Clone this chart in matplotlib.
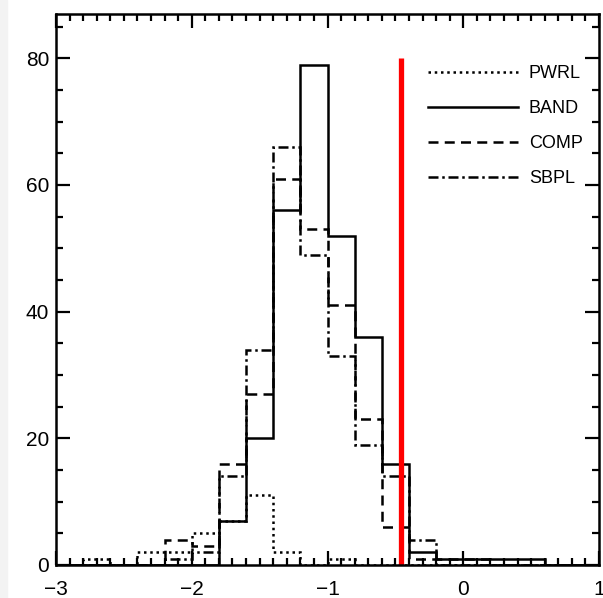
import numpy as np
import matplotlib
matplotlib.use("Agg")
import matplotlib.pyplot as plt
from matplotlib.patches import Rectangle
from matplotlib.ticker import MultipleLocator

plt.rcParams['font.family'] = ['Liberation Sans', 'DejaVu Sans']

# histogram bin edges (width 0.2 from -3 to 1)
bin_start = -3.0
bin_width = 0.2
n_bins = 20

# counts per bin
pwrl = [0, 1, 0, 2, 2, 5, 7, 11, 2, 0, 1, 0, 0, 0, 0, 0, 0, 0, 0, 0]
band = [0, 0, 0, 0, 0, 0, 7, 20, 56, 79, 52, 36, 16, 2, 1, 1, 1, 1, 0, 0]
comp = [0, 0, 0, 0, 4, 3, 16, 27, 61, 53, 41, 23, 6, 1, 1, 1, 0, 0, 0, 0]
sbpl = [0, 0, 0, 0, 1, 2, 14, 34, 66, 49, 33, 19, 14, 4, 0, 0, 0, 0, 0, 0]

labels = ["PWRL", "BAND", "COMP", "SBPL"]
cut_x = -0.46
cut_top = 80

edges = bin_start + bin_width * np.arange(n_bins + 1)

fig = plt.figure(figsize=(6.03, 5.98), dpi=100)
# light grey strip on the left edge of the picture
fig.patches.append(Rectangle((0, 0), 7 / 603, 1, transform=fig.transFigure,
                             color="#f3f3f3", zorder=-1))
ax = fig.add_axes([56 / 603, 1 - 565 / 598, 543 / 603, 551 / 598])

styles = [(0, (1, 1.5)), "-", (0, (4, 2.5)), (0, (4, 1.5, 1, 1.5))]
for vals, lab, ls in zip([pwrl, band, comp, sbpl], labels, styles):
    ax.stairs(vals, edges, color="black", lw=1.8, linestyle=ls, label=lab)

ax.plot([cut_x, cut_x], [0, cut_top], color="red", lw=3.8, solid_capstyle="butt")

ax.set_xlim(-3, 1)
ax.set_ylim(0, 87)
ax.xaxis.set_major_locator(MultipleLocator(1))
ax.xaxis.set_minor_locator(MultipleLocator(0.1))
ax.yaxis.set_major_locator(MultipleLocator(20))
ax.yaxis.set_minor_locator(MultipleLocator(5))
ax.tick_params(which="both", direction="in", top=True, right=True,
               width=1.6, labelsize=15, colors="black")
ax.tick_params(which="major", length=10)
ax.tick_params(which="minor", length=5)
ax.tick_params(axis="x", which="major", pad=11)
ax.tick_params(axis="y", which="major", pad=5)
for s in ax.spines.values():
    s.set_linewidth(1.8)

leg = ax.legend(loc="upper right", frameon=False, fontsize=13,
                handlelength=5.0, handletextpad=0.6, labelspacing=1.0,
                bbox_to_anchor=(1.0, 0.937))

fig.savefig("out.png", dpi=100)
